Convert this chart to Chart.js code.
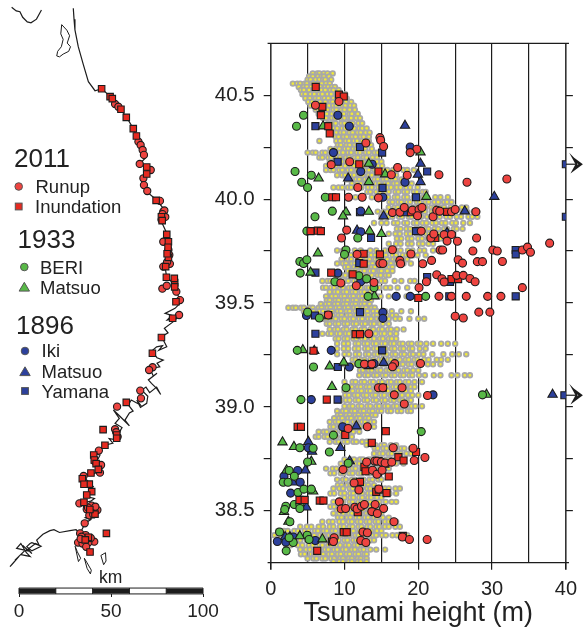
<!DOCTYPE html>
<html>
<head>
<meta charset="utf-8">
<title>Tsunami height</title>
<script src="https://cdn.jsdelivr.net/npm/chart.js@4"></script>
<style>
  html, body { margin: 0; background: #fff; }
  body { position: relative; width: 585px; height: 630px; overflow: hidden; font-family: "Liberation Sans", sans-serif; color: #222; }
  canvas { position: absolute; top: 0; }
  #mapChart { left: 0; }
  #heightChart { left: 215px; }
  .txt { position: absolute; line-height: 1; white-space: nowrap; transform: translateY(-50%); }
  svg { position: absolute; left: 0; top: 0; }
</style>
</head>
<body>
<canvas id="mapChart" width="225" height="630"></canvas>
<canvas id="heightChart" width="370" height="630"></canvas>
<svg id="keys" width="60" height="420"></svg>
<script>
'use strict';

// 2011 survey (the yellow cloud): one latitude per row, heights in m
const surveyLat = [40.605,40.59,40.575,40.556,40.54,40.525,40.505,40.485,40.468,40.45,40.43,40.41,40.39,40.365,40.34,40.32,40.3,40.28,40.26,40.242,40.224,40.2,40.18,40.16,40.14,40.115,40.095,40.075,40.056,40.035,40.009,39.986,39.96,39.94,39.915,39.885,39.857,39.833,39.81,39.785,39.753,39.73,39.71,39.69,39.672,39.654,39.633,39.606,39.574,39.553,39.532,39.513,39.495,39.477,39.46,39.44,39.424,39.4,39.373,39.352,39.328,39.304,39.28,39.253,39.227,39.205,39.176,39.152,39.12,39.096,39.077,39.056,39.032,39.003,38.98,38.96,38.945,38.928,38.904,38.88,38.856,38.832,38.816,38.8,38.775,38.747,38.727,38.703,38.68,38.65,38.623,38.607,38.583,38.563,38.543,38.519,38.503,38.487,38.467,38.447,38.423,38.403,38.382,38.358,38.334,38.313,38.291,38.27,38.255];
const surveyHeights = [
[5.7,6.3,6.6,7.2,7.7,8.4],
[5.2,5.7,6.4,6.9,7.2,7.9],
[5,5.4,6.1,6.6,7.1,7.4,8.2],
[3,3.6,4,4.6,4.9,5.5,5.8,6.5,6.9,7.5,8],
[3.8,4.5,4.9,5.5,6.2,6.7,7.4,7.8,8.3,8.7],
[4.1,4.5,5.2,5.8,6.2,6.9,7.4,8.1,8.5,9.2],
[4.3,4.7,5.4,5.9,6.6,7,7.7,8.2,8.9,9.3,10.1],
[4.7,5.3,6.1,6.5,7.3,7.8,8.5,9,9.5,10.3],
[5.1,5.6,6.3,6.7,7.4,8.1,8.4,9.2,9.7,10.2,10.9],
[5.4,6.2,6.6,7.4,7.9,8.5,8.9,9.7,10.1,10.8,11.3],
[6.1,6.5,7.3,7.7,8.5,8.9,9.6,10,10.7,11.4],
[6.5,7.2,7.6,8.3,8.8,9.5,9.9,10.7,11,11.8],
[7.1,7.5,8.3,8.7,9.5,10,10.6,10.9,11.6,12.1],
[7.8,8.4,8.8,9.6,10,10.7,11.1,11.9,12.4],
[8.6,9,9.7,10.1,10.9,11.3,12,12.4,13],
[8.2,8.9,9.5,9.9,10.7,11.1,11.8,12.2,12.9,13.4],
[8.8,9.2,9.9,10.3,11.1,11.5,12.2,12.6,13.3],
[6.6,8.9,9.4,10.2,10.6,11.3,11.7,12.4,12.8,13.3],
[9.1,9.5,10.3,10.7,11.4,11.8,12.5,13,13.6],
[8.1,8.8,9.3,10.1,10.5,11.2,11.6,12.4,12.8,13.7],
[5,5.7,6.1,7,7.4,8.2,8.6,9.4,9.8,10.5,10.9,11.7,12.1,12.9,13.3,14.1,14.5],
[6.6,7,7.8,8.2,9,9.4,10.2,10.6,11.4,11.8,12.6,13,13.8,14.4],
[8,8.7,9,9.8,10.2,11,11.4,12.1,12.5,13.3,13.7,14.4,15],
[7.5,8.3,8.8,9.6,10.1,10.9,11.3,12.2,12.6,13.4,13.8,14.6,15.1],
[7.5,8.1,8.5,9.3,9.7,10.5,10.9,11.7,12.1,12.9,13.3,14.1,14.5,15.3,15.8,16.6,17.1,18,18.5,19.4],
[9,9.7,10.1,10.9,11.3,12.1,12.5,13.3,13.7,14.5,14.9,15.7,16.1,17],
[10.3,10.8,11.6,12,12.8,13.2,14.1,14.5,15.3,15.7,16.5,16.9,17.7,18.1],
[11,11.7,12.2,13,13.5,14.3,14.7,15.5,15.9,16.7,17.1,17.9,18.3,19.1],
[8.5,9.2,9.7,10.5,10.9,11.8,12.3,13.2,13.7,14.6,15,15.9,16.3,17.1,17.6,18.4,18.9,19.9],
[13.1,13.5,14.3,14.8,15.6,16,16.9,17.3,18.1,18.5,19.4,19.8,20.6,21],
[10.5,11.5,12.4,13.7,14.3,15.4,15.9,16.8,17.2,18.1,18.5,19.4,19.9,20.7,21.2,22.3,23,24],
[16.1,16.5,17.3,17.7,18.5,18.9,19.8,20.2,21,21.4,22.2,22.7,23.5,23.9,24.5],
[16,16.8,17.2,18,18.5,19.3,19.7,20.6,21,21.8,22.2,23.1,23.5,24.4,24.9,25.9,26.5],
[14.5,15.3,15.8,16.7,17.1,18,18.4,19.2,19.7,20.5,20.9,21.8,22.2,23.1,23.6,24.5,25,26,26.6,27.5,28],
[15,16,16.5,17.4,17.8,18.7,19.1,20,20.4,21.2,21.7,22.5,22.9,23.8,24.3,25.2,25.8,26.8,27.3,28],
[14,15,15.7,16.7,17.2,18.1,18.5,19.4,19.8,20.6,21.1,21.9,22.4,23.2,23.7,24.6,25.1,26.1,27],
[17.1,17.6,18.4,18.9,19.7,20.1,21,21.4,22.2,22.7,23.5,23.9,24.8,25.2,26],
[16,16.9,17.5,18.4,18.9,19.8,20.2,21.1,21.5,22.4,22.9,23.8,24.1],
[17.1,17.7,18.6,19.1,20,20.5,21.3,21.8,22.6,23],
[16,17,17.6,18.6,19.1,20.1,20.6,21.4,22],
[9,9.8,10.3,11.4,12.2,13.5,14.3,15.5,16,17,17.6,18.6,19.2,20.2,20.8,22],
[10.1,10.9,12,12.6,13.6,14.2,15.1,15.6,16.5,17,17.9,18.4,19.3,19.9,21],
[9.6,10.5,10.9,11.8,12.2,13,13.4,14.2,14.6,15.4,15.8,16.6,17,17.9,18.5],
[9,9.8,10.2,11,11.4,12.2,12.6,13.4,13.8,14.6,15,15.8,16.3,17.1,18,19],
[10.1,10.5,11.3,11.7,12.5,12.9,13.7,14.1,14.9,15.3,16.1,16.5],
[10.5,11.1,11.5,12.3,12.7,13.5,13.9,14.7,15,15.8,16.5],
[9,9.7,10.1,10.9,11.3,12.1,12.5,13.3,13.7,14.5,14.9,15.6,16],
[7,7.7,8.1,8.9,9.3,10.1,10.5,11.3,11.7,12.5,12.9,13.7,14.1,15,15.5,16.8,17.7,18.9,19.5],
[7.1,7.5,8.2,8.6,9.4,9.8,10.6,11,11.8,12.2,13,13.3,14.2,14.7,15.6,16.2,17.2,18.5],
[8,8.7,9.1,9.9,10.3,11.1,11.5,12.3,12.7,13.5,14],
[7.5,8.3,8.8,9.6,10,10.8,11.2,12,12.4,13.2,13.6,14.4,14.9,16,17.2,18.4,19.2,20],
[7.6,8,8.8,9.2,10,10.4,11.2,11.6,12.4,12.8,13.6],
[6.8,7.5,7.9,8.7,9.1,9.9,10.3,11.1,11.5,12.3,12.7,13.4],
[2.4,3,3.4,4.1,4.5,5.3,5.7,6.5,6.9,7.7,8.1,8.9,9.3,10.1,10.5,11.3,11.7,12.5,12.9,13.7,14.1],
[4.5,5.3,5.8,6.6,7.1,7.9,8.3,9.1,9.5,10.3,10.7,11.5,11.9,12.7,13.1,13.9,14.4,15.5,16.4,17.7,19],
[6,6.7,7.2,8,8.4,9.2,9.6,10.4,10.8,11.6,12,12.8,13.2,14,14.4,15.2,15.7,16.5,17],
[6.5,7.2,7.6,8.4,8.8,9.6,10,10.8,11.2,12,12.4,13.2,13.6,14.4,14.8,15.6,16,16.9,17.5,18.8,20,20.8],
[7.6,8,8.8,9.2,10,10.4,11.2,11.6,12.4,12.8,13.6,14,14.8,15.2,16],
[8,8.7,9.1,9.9,10.3,11.1,11.5,12.3,12.7,13.5,13.9,14.7,15.1,15.9,16.3,17.1,18],
[7,7.8,8.2,9,9.4,10.2,10.6,11.4,11.8,12.6,13,13.8,14.2,15,15.4,16.2,17],
[8.8,9.2,10,10.4,11.2,11.6,12.4,12.8,13.6,14,14.8,15.2,16,16.4,17],
[9,9.9,10.5,11.5,11.9,12.7,13.1,13.9,14.3,15.1,15.5,16.3,16.7,17.5,17.9,18.7,19.1,19.9,20.3,21.1,22,23.1,24,25],
[9,9.9,10.5,11.4,11.9,12.8,13.2,14,14.4,15.2,15.6,16.4,16.8,17.6,18,18.8,19.2,20.2,21],
[9,10,10.6,11.5,12,12.9,13.3,14.1,14.5,15.3,15.7,16.5,16.9,17.7,18.1,18.9,19.3,20.1,20.7,21.9,23.4,24.6,25.5,26.5],
[11.1,11.5,12.3,12.7,13.5,13.9,14.7,15.1,15.9,16.3,17.1,17.5,18.3,18.7,19.5,19.9,20.8,21.4,22.5,23.1,24],
[10,11.1,11.8,12.7,13.1,13.9,14.3,15.1,15.5,16.3,16.7,17.5,17.9,18.7,19.1,19.9,20.3,21.3,22,23],
[12.1,12.5,13.3,13.7,14.5,14.9,15.7,16.1,16.9,17.3,18.1,18.5,19.3,20],
[12,12.8,13.2,14,14.4,15.2,15.6,16.4,16.8,17.6,18,18.8,19.2,20.1,20.9,22.1,23,24.5,25.3,26.3,27],
[10,11.1,11.5,12.3,12.7,13.5,13.9,14.7,15.1,15.9,16.3,17.1,17.5,18.3,18.7,19.5,20.5],
[10.6,11,11.8,12.2,13,13.4,14.2,14.6,15.4,15.8,16.6,17,17.8,18.2,19,19.5],
[10,10.7,11.1,11.9,12.3,13.1,13.5,14.3,14.7,15.5,15.9,16.7,17.1,17.9,18.3,19],
[10.1,10.6,11.4,11.8,12.6,13,13.8,14.2,15,15.4,16.2,16.6,17.4,17.8,18.6,19.2,20],
[9.5,10.2,10.7,11.5,11.9,12.7,13.1,13.9,14.3,15.1,15.5,16.3,16.7,17.5,17.9,18.7,19],
[10,10.7,11.1,11.9,12.3,13.1,13.5,14.3,14.7,15.5,15.9,16.7,17.1,17.9,18.3,19.1,19.6,20.5],
[9,9.8,10.2,11,11.4,12.2,12.6,13.4,13.8,14.6,15,15.9,16.3,17.2,17.7,18.6,19],
[9.1,9.5,10.3,10.7,11.5,11.9,12.7,13.1,13.8,14.2],
[8.6,9.3,9.7,10.5,10.9,11.7,12.1,12.9,13.3],
[8,8.8,9.2,10,10.4,11.2,11.6,12.4,12.8,13.6,14],
[8.1,8.5,9.3,9.7,10.5,10.9,11.7,12.1,12.9,13.3,14],
[6.5,7.2,7.6,8.4,8.8,9.6,10,10.8,11.2,12],
[6.1,6.5,7.3,7.7,8.5,8.9,9.7,10.1,11],
[8,8.8,9.2,10,10.4,11.2,11.6,12.4,13],
[13,13.8,14.2,15,15.4,16.3,17],
[14.1,14.5,15.3,15.7,16.5,16.9,17.7,18.1,19],
[14,14.8,15.2,16,16.4,17.2,17.6,18.4,19],
[10,10.8,11.3,12.1,12.5,13.3,13.7,14.5,14.9,15.7,16.1,17],
[9.5,10.3,10.8,11.6,12,12.8,13.2,14,14.4,15.2,15.6,16.4,17,18],
[7.5,8.4,8.9,9.8,10.3,11.1,11.5,12.3,12.7,13.5,13.9,14.7,15.1,16],
[8.1,8.6,9.5,9.9,10.7,11.1,11.9,12.3,13.1,13.4,14],
[9,9.8,10.2,11,11.4,12.2,12.6,13.4,13.8,14.6,15],
[9.1,9.6,10.4,10.8,11.6,12,12.8,13.2,14],
[8.5,9.3,9.8,10.7,11.1,11.9,12.3,13.1,13.5,14.3,14.7,15.5,16,16.9,17.5],
[8.1,8.6,9.5,10,10.8,11.2,12,12.4,13.2,13.6,14.4,14.8,15.6,16.1,17],
[10,10.8,11.2,12,12.4,13.2,13.6,14.4,15],
[8.5,9.3,9.8,10.7,11.1,11.9,12.3,13.1,13.5,14.3,14.7,15.6,16.4,17],
[8.1,8.6,9.5,9.9,10.7,11.1,11.9,12.3,13.1,13.5,14.5],
[9,9.7,10.1,10.9,11.3,12.1,12.5,13.3,13.7,14.5,15],
[8.5,9.3,9.8,10.6,11,11.8,12.2,13,13.4,14.2,15],
[9.1,9.6,10.4,10.8,11.6,12,12.8,13.2,14,14.4,15.2,16],
[7,7.9,8.4,9.3,9.8,10.6,11,11.8,12.2,13,13.4,14.2,14.6,15.5,16,17],
[4,4.9,5.5,6.5,7.1,8,8.5,9.4,9.9,10.7,11.1,11.9,12.3,13.1,13.5,14.3,14.7,15.5,16,16.9,17.5],
[1,1.8,2.3,3.2,3.7,4.6,5.1,6,6.4,7.2,7.6,8.4,8.8,9.6,10,10.8,11.2,12,12.4,13.2,13.6,14.4,15],
[0.5,1.3,1.8,2.7,3.2,4.1,4.6,5.5,5.9,6.7,7.1,7.9,8.3,9.1,9.5,10.3,10.7,11.5,11.9,12.7,13.1,13.9,14.3,15.1,15.6,16.5,17.1,18,18.5],
[1,1.9,2.5,3.5,4,4.9,5.4,6.3,6.8,7.6,8,8.8,9.2,10,10.4,11.2,11.6,12.4,12.8,13.6,14],
[2.1,2.7,3.7,4.3,5.2,5.7,6.6,7,7.8,8.2,9,9.4,10.2,10.6,11.4,11.8,12.6,13],
[4,4.8,5.3,6.2,6.6,7.4,7.8,8.6,9,9.8,10.2,11,11.4,12.2,12.6,13.5,14.3,15.5],
[4.1,4.6,5.5,5.9,6.7,7.1,7.9,8.3,9.1,9.5,10.3,10.7,11.5,11.9,12.7,13],
[5,5.8,6.2,7,7.4,8.2,8.6,9.4,9.8,10.6,11,11.8,12.2,13],
[8.5,9.3,9.8,10.6,11,11.8,12.2,13]
];

// 2011 field points
const runupHeight = [6.06,9.25,12.9,14.8,14.9,15.3,19.8,18.9,8.2,10.7,17.2,16.35,18.5,22.8,26.6,32,11.8,10.55,12.4,14.6,16.5,17.5,18.1,19.2,20.1,20.5,19.9,22,22.5,22.9,24.5,25,27.8,10.3,9.6,20.4,21.7,22.1,23.5,24.5,23.9,25.3,27.9,22.96,23.3,16.5,19,11.7,27.4,30.1,30.7,34.1,34.8,35.2,37.8,25.4,26,28,28.7,31.4,17.5,17.6,20.6,21.8,14.8,15.2,22.5,23.2,23.5,25.2,26.1,27,27.7,21.1,14,9.5,11.6,20.1,34.1,22.8,24.5,26.5,29.4,31.2,28.2,29.7,25,26.1,7.8,13.3,12.7,13.7,16.8,16.5,20.3,14.6,15.2,17.8,21.25,16.75,18.1,13.1,10.5,16.6,19.3,19.45,20.9,13,14.1,14.4,15,15.5,16.4,9.8,13.8,14.4,15.1,11.3,11.95,14.65,9.3,9.55,10.15,11.4,11.7,12.3,12.7,14.15,15.3,13.7,14.45,16.7,12.5,13.1,17.85,18.8,21.2,8.6,8.5,12.2,12.9];
const runupLat = [40.452,40.47,40.27,40.296,40.283,40.253,40.24,40.224,40.166,40.18,40.152,40.117,40.115,40.117,40.081,40.097,40.056,40.009,40.009,40.006,39.935,39.937,39.96,39.947,39.95,39.96,39.92,39.915,39.947,39.942,39.939,39.95,39.939,39.851,39.813,39.846,39.813,39.832,39.829,39.83,39.798,39.797,39.813,39.755,39.755,39.756,39.736,39.734,39.75,39.755,39.75,39.755,39.769,39.744,39.788,39.708,39.692,39.699,39.699,39.7,39.705,39.689,39.689,39.705,39.69,39.69,39.636,39.617,39.601,39.633,39.633,39.618,39.602,39.602,39.599,39.596,39.583,39.574,39.574,39.532,39.532,39.532,39.532,39.532,39.456,39.456,39.436,39.428,39.442,39.352,39.206,39.206,39.208,39.193,39.209,39.092,39.092,39.092,39.055,39.058,39.014,38.904,38.896,38.803,38.801,38.742,38.756,38.735,38.739,38.739,38.735,38.73,38.734,38.698,38.695,38.676,38.695,38.634,38.6,38.605,38.543,38.509,38.511,38.517,38.509,38.522,38.53,38.53,38.511,38.496,38.487,38.447,38.398,38.394,38.374,38.362,38.362,38.37,38.352,38.357,38.347];
const inundationHeight = [6.1,9.25,9.9,7,6.8,7.8,8,12,14.6,8.35,8.85,19,23.9,5.4,6.4,6.8,22.3,12.6,14.8,12.6,8.2,11.1,24.5,25.4,20,7.8,11.5,12.1,5.8,15.2,7.6,3.65,4.1,15.6,10.1,13.7,19.7,17.3,18,14.6,15.55,12.7,12.85,16,12.1,14.3,14.65,15.7,3.9,4.6,6.65,7.15,11.8,9.9,10.3,17.9,6.3,8.3];
const inundationLat = [40.54,40.503,40.494,40.444,40.404,40.351,40.316,40.168,40.133,40.009,40.009,39.937,39.939,39.846,39.848,39.846,39.813,39.737,39.734,39.689,39.646,39.638,39.615,39.615,39.524,39.442,39.35,39.35,39.27,39.092,39.035,38.904,38.904,38.883,38.865,38.827,38.783,38.758,38.742,38.739,38.727,38.711,38.69,38.665,38.639,38.591,38.602,38.585,38.552,38.552,38.549,38.549,38.493,38.397,38.397,38.379,38.307,38.352];

// 1933
const beriHeight = [4.45,3.5,3.3,5.5,4.2,5,7.4,6,8.35,4.9,11.8,10.2,10,3.95,4.45,4.9,4,11.95,13,8.7,14,13.2,21,5,6.6,3.6,5.8,11.95,10.2,4.1,28.7,8.5,20.4,3.95,7.95,5.75,5,10.5,2.5,3.2,1.7,2.35,3.7,4.5,5.5,3.2,3.95,2.05,1.9,3.95,2.6,1.2,3.05,2.1,4.95,5.2,2.5];
const beriLat = [40.404,40.351,40.133,40.115,40.081,40.056,40.009,39.915,39.942,39.846,39.813,39.755,39.734,39.7,39.69,39.708,39.644,39.631,39.617,39.602,39.574,39.532,39.532,39.456,39.428,39.272,39.192,39.208,39.092,39.035,39.058,38.864,38.881,38.803,38.783,38.801,38.735,38.729,38.694,38.666,38.637,38.637,38.588,38.604,38.604,38.53,38.53,38.522,38.506,38.511,38.447,38.398,38.347,38.307,38.382,38.362,38.37];
const matsuo33Height = [7.1,13.3,20.3,6.5,15.5,13.3,21.1,10.2,9.8,13.3,6.4,5.4,15,13.4,14.05,4.35,8,9.9,8.3,29.25,1.6,3.15,5.5,2.15,5.75,7,3.95,1.8,2.4];
const matsuo33Lat = [40.351,40.171,40.226,40.1,40.12,40.083,40.012,39.937,39.918,39.94,39.74,39.647,39.833,39.846,39.533,39.274,39.195,39.214,39.097,39.059,38.83,38.808,38.737,38.695,38.594,38.363,38.378,38.495,38.448];

// 1896
const ikiHeight = [9.1,10.65,8.5,13.75,18.9,12.2,18.2,15.2,12.2,12.2,9.1,12.2,17,18.9,4.85,15.2,15.2,8.2,10.65,14,5.5,22,9.75,5.1,3.65,1.8,4,2.7,6.05,0.9,2.05,3.05];
const ikiLat = [40.404,40.351,40.224,40.168,40.251,40.133,40.081,40.009,39.942,39.843,39.644,39.602,39.532,39.532,39.44,39.455,39.426,39.272,39.192,39.208,39.035,39.058,38.904,38.803,38.694,38.666,38.637,38.585,38.357,38.352,38.349,38.374];
const matsuo96Height = [18.2,20.3,10.5,19.95,20.3,30.3,15.3,26.3,11.7,23.9,5.9,13.3,15.3,11.6,38.2,5.1,9.45,5.6,10.7,4.7,4.85,1.95,2.6,3];
const matsuo96Lat = [40.354,40.171,40.1,40.118,40.083,40.012,39.918,39.942,39.849,39.838,39.27,39.197,39.213,38.907,39.059,38.832,38.803,38.785,38.739,38.695,38.517,38.374,38.374,38.637];
const yamanaHeight = [6.06,12.1,15.1,9.07,21.2,15.15,19.7,40,40,12.1,18.2,19.7,13.6,33.2,33.2,12,6.06,21.2,24.3,33.2,24.2,6,12.1,6.06,15.1,9.1,9.07,39.8];
const yamanaLat = [40.351,40.251,40.224,40.18,40.133,40.054,40.009,40.168,39.915,39.937,39.937,39.846,39.813,39.755,39.734,39.692,39.646,39.625,39.602,39.532,39.532,39.44,39.456,39.352,39.272,39.192,39.035,39.056];

// off-scale values, arrows at the right edge
const offScaleLat = [40.168, 39.056];
const arrowShaft = [40, 41.5];
const arrowHeadX = [41, 42.1, 41, 41.45, 41, 41.3, 41.9, 41.3, 41.6, 41.9, 41.6];
const arrowHeadLat = [0.029, 0, -0.029, 0, 0.029, 0.018, 0, -0.018, -0.008, 0, 0.008];

const heightTicks = [0, 5, 10, 15, 20, 25, 30, 35, 40];
const latMin = 38.25, latMax = 40.75;
const frameHeights = [-0.42, 40.42];

// map, in km east and km north of the scale origin
const coastX = [29.5,29.9,30.4,32.2,35,37.7,41.3,45,49.5,54.9,58.5,62.1,64,66.7,68.5,69.4,65.8,70.3,72.1,69.4,66.7,69.4,74.8,78.4,76.6,80.3,82.1,79.4,80.3,84.8,85.7,88.4,84.8,79.4,83,80.5,85.7,83.9,79,81,77.5,80.3,76,78,74.8,72.1,75,78.4,75,76.5,71.2,73,75,70.3,72,74.8,77,74.8,71,69,66.7,70,69.4,66,64,66,61,59.4,62,60,57.6,60,54,51.3,54.5,52.2,56,53.5,55,53.1,49,51,46.7,41.3,44,43,39.5,44,41,38,35,40.4,38,36.8,41,39,33.7,37.3,43.1,36,39,35.9,33.2,31,27.7,22,19,16.8,13,9.6,11,7,6,4.2,7,12,9,5,7,2,5,-1.3,1,4,6,1,3,-2.2,0,-3.5,-4.9];
const coastY = [337.9,332,326.1,317,307.1,298,293.1,294.2,289.9,283.5,278.6,272.6,268.1,263.6,260,257.2,253.6,251.8,249.1,247.3,243.7,238.2,233.7,229.2,223.7,215.6,206.5,197.5,191.1,188.4,183,178.4,174.8,172.1,171,168.5,169.4,167.6,164,161.5,159.4,153.9,152,154.5,153.9,151.6,148,146.7,145,143,142,138,139.5,135.9,134,131.3,128,132,129,132,130.4,127,123.2,121,125,122.3,125,122.3,119,118,114.1,111,117,119.6,115,112.3,110,106,108,103.3,104,101.5,100.5,96,95,93,90.6,87,85,85,83.3,77.9,76,72.5,71.5,70,68.8,64.3,64.3,61,60,58,52.5,54.5,54,53,54.5,54,52,48.9,46,47.5,47,45.3,43,45.5,47,44,41.5,46,43,44.4,47,42,40,41,43,38,40,36,34.4];
const shoreNorthX = [-4,-1.5,0.5,2,4.5,6.5,9.5,12.2];
const shoreNorthY = [338.5,336.5,336,333,330.5,330,332,337];
const islandX = [23.2,22.7,24,23,21,20.5,22,24,27,28,26.2,27.5,26,23.2];
const islandY = [329,324,321,317,314.5,312,311.5,313,314.5,317,319,323,326,329];
const isletAX = [30.5,31.7,33.5,32.3,30.5];
const isletAY = [45.5,42.5,39,37.2,45.5];
const isletBX = [35.5,37,39.3,38.8,37,35.5];
const isletBY = [39,36.5,32.5,30.5,33.5,39];
const isletCX = [44.5,47,47.3,46,44.5];
const isletCY = [40.5,42,37.5,35.5,40.5];

const mapRunupX = [52.2,54,64.9,66.1,67.2,67.9,65.6,71.6,67.6,67.9,69.7,76.6,78.4,77.5,78.4,81.2,81.7,78.4,77.9,80.3,85.5,87.5,87,72.6,70.7,65.9,66.3,53.3,52.2,43.4,44.6,44,35.1,32.8,39.5,36.8,42.6,38.6,38.2,35.7,33.2,36.2,32.1,35,40.9,34,37.7,79,78,79.5,82,80.5,52.8,53.6,41.5,37.5,40.3,34.5,36.5,39,33.5];
const mapRunupY = [285.9,284.4,265.4,263.6,260.9,258.2,253.3,250,245.5,241.8,238.6,233.2,227.4,222.8,211,206.5,203.8,197.5,185.5,187.1,183.9,179.3,171.2,142.8,141.3,130.1,125.9,121.4,109.1,97.5,89.7,85.5,83.7,68.8,67.6,65.6,65.2,64.9,62.3,58,52.5,51.6,47.5,48,48,50.7,47.5,228,226,224.5,199,200,107.5,105,67,66.5,62.8,47,45.2,50,49.5];
const mapInundationX = [44.9,49.5,50.7,55.4,58.3,62.1,63.8,69.4,69.4,74.5,77.4,80.3,81.2,81.2,79.7,80.1,84.6,84.4,85.3,83.5,77.4,72.5,58.3,45.7,53.1,53.1,46.7,40.6,40.9,41.9,43.1,39.1,34.4,38.2,35.3,39.5,36.8,35.3,41.3,37.7,47.5,38.6,77.8,81,80.5,84.6,38.5,36];
const mapInundationY = [294.2,289.9,288.8,283,278.6,272.5,268.5,251.6,247.8,233.5,224.6,215,211,202.5,197.5,191.7,188.8,191.1,178.4,169.4,159,150.4,123.7,108.9,106,104.2,100.4,95.1,92.4,90.4,87.3,85.3,82.2,79.3,79.2,75.2,73.4,69.4,63,50.4,52.5,42.4,222.5,208,204.5,186.5,65.5,49];

// scale bar
const barKm = [0, 20, 40, 60, 80, 100];
const barTicks = [0, 50, 100];
const barEdgeNorth = [19.6, 22.8];
const barMidNorth = 21.2;

// legend
const legendHeads = ['2011', '1933', '1896'];
const runupLabels = ['Runup', 'Inundation'];
const labels1933 = ['BERI', 'Matsuo'];
const labels1896 = ['Iki', 'Matsuo', 'Yamana'];

const RED = '#ee4440', RED_SQ = '#e62a20', GREEN = '#58b947', BLUE = '#2c409c', INK = '#1c1c1c';
const FONT = '"Liberation Sans", sans-serif';

function pairs(xs, ys) {
  return xs.map((x, i) => ({ x, y: ys[i] }));
}

function markers(label, xs, ys, style, color, r, order) {
  return {
    label, data: pairs(xs, ys), pointStyle: style, pointRadius: r,
    backgroundColor: color, borderColor: INK, borderWidth: 1.1, order
  };
}

function path(xs, ys, width, color) {
  return {
    data: pairs(xs, ys), showLine: true, pointRadius: 0,
    borderColor: color || INK, borderWidth: width, order: 5, clip: false
  };
}

// --- height vs latitude panel ---
const surveyPoints = [];
surveyLat.forEach((lat, i) => {
  surveyHeights[i].forEach(h => surveyPoints.push({ x: h, y: lat }));
});

const heightSets = [
  markers('Runup', runupHeight, runupLat, 'circle', RED, 4, 1),
  markers('Inundation', inundationHeight, inundationLat, 'rect', RED_SQ, 5, 2),
  markers('BERI', beriHeight, beriLat, 'circle', GREEN, 4, 3),
  markers('Matsuo 1933', matsuo33Height, matsuo33Lat, 'triangle', GREEN, 5.4, 3),
  markers('Iki', ikiHeight, ikiLat, 'circle', BLUE, 4, 4),
  markers('Matsuo 1896', matsuo96Height, matsuo96Lat, 'triangle', BLUE, 5.4, 4),
  markers('Yamana', yamanaHeight, yamanaLat, 'rect', BLUE, 5, 4),
  {
    label: 'Survey', data: surveyPoints, pointStyle: 'circle', pointRadius: 2.3,
    backgroundColor: '#f0e83a', borderColor: '#a8a8a8', borderWidth: 1.8, order: 6
  },
  path(frameHeights, [latMax, latMax], 1.3),
  path(frameHeights, [latMin, latMin], 1.3)
];
offScaleLat.forEach(lat => {
  heightSets.push(path(arrowShaft, [lat, lat], 1.2));
  heightSets.push(path(arrowHeadX, arrowHeadLat.map(d => lat + d), 1.8));
});

new Chart(document.getElementById('heightChart'), {
  type: 'scatter',
  data: { datasets: heightSets },
  options: {
    responsive: false,
    animation: false,
    layout: { autoPadding: false, padding: { top: 43.3, left: 0, right: 0, bottom: 0 } },
    plugins: { legend: { display: false }, tooltip: { enabled: false } },
    scales: {
      x: {
        min: 0, max: 40,
        afterBuildTicks: s => { s.ticks = heightTicks.map(value => ({ value })); },
        afterFit: s => { s.height = 67.3; },
        border: { display: false },
        grid: {
          color: ctx => (ctx.tick && (ctx.tick.value === 0 || ctx.tick.value === 40) ? '#333' : INK),
          lineWidth: ctx => (ctx.tick && (ctx.tick.value === 0 || ctx.tick.value === 40) ? 1.6 : 1.2),
          tickColor: ctx => (ctx.tick && ctx.tick.value % 10 === 0 ? INK : 'transparent'),
          tickLength: 7
        },
        ticks: {
          color: '#222', maxRotation: 0, padding: 8, autoSkip: false,
          font: { family: FONT, size: 20 },
          callback: v => (v % 10 === 0 ? String(v) : '')
        },
        title: {
          display: true, text: 'Tsunami height (m)', color: '#222',
          font: { family: FONT, size: 27 }, padding: { top: 0, bottom: 0 }
        }
      },
      y: {
        min: latMin, max: latMax,
        afterFit: s => { s.width = 55.7; },
        border: { display: false },
        grid: {
          drawOnChartArea: false, tickLength: 7, lineWidth: 1.2,
          tickColor: ctx => (ctx.tick && (ctx.tick.value === latMin || ctx.tick.value === latMax) ? 'transparent' : INK)
        },
        ticks: {
          stepSize: 0.25, color: '#222', padding: 9,
          font: { family: FONT, size: 20.5 },
          callback: v => (Math.round(v * 100) % 50 === 0 ? v.toFixed(1) : '')
        }
      },
      y2: {
        position: 'right', min: latMin, max: latMax,
        afterFit: s => { s.width = 15.5; },
        border: { display: false },
        grid: {
          drawOnChartArea: false, tickLength: 7, lineWidth: 1.2,
          tickColor: ctx => (ctx.tick && (ctx.tick.value === latMin || ctx.tick.value === latMax) ? 'transparent' : INK)
        },
        ticks: { stepSize: 0.25, padding: 0, callback: () => '' }
      }
    }
  }
});

// --- map panel ---
const mapSets = [
  markers('Runup', mapRunupX, mapRunupY, 'circle', RED, 3.6, 2),
  markers('Inundation', mapInundationX, mapInundationY, 'rect', RED_SQ, 4.6, 1),
  path(coastX, coastY, 1.2),
  path(shoreNorthX, shoreNorthY, 1.2),
  path(islandX, islandY, 1),
  path(isletAX, isletAY, 1),
  path(isletBX, isletBY, 1),
  path(isletCX, isletCY, 1),
  path([barKm[0], barKm[5]], [barEdgeNorth[0], barEdgeNorth[0]], 1),
  path([barKm[0], barKm[5]], [barEdgeNorth[1], barEdgeNorth[1]], 1)
];
for (let i = 0; i < barKm.length - 1; i += 2) {
  mapSets.push(path([barKm[i], barKm[i + 1]], [barMidNorth, barMidNorth], 5));
}
barKm.forEach(km => {
  mapSets.push(path([km, km], barEdgeNorth, 1));
});

new Chart(document.getElementById('mapChart'), {
  type: 'scatter',
  data: { datasets: mapSets },
  options: {
    responsive: false,
    animation: false,
    plugins: { legend: { display: false }, tooltip: { enabled: false } },
    layout: { autoPadding: false, padding: 0 },
    scales: {
      x: {
        min: -10.33, max: 111.95,
        position: { y: barEdgeNorth[0] },
        afterBuildTicks: s => { s.ticks = barTicks.map(value => ({ value })); },
        border: { display: false },
        grid: { drawOnChartArea: false, tickLength: 3, color: INK },
        ticks: { color: '#222', padding: 3, maxRotation: 0, font: { family: FONT, size: 19 } }
      },
      y: { display: false, min: 0, max: 342.4 }
    }
  }
});

// --- legend and scale caption, as text beside the map ---
function addText(text, x, y, size) {
  const el = document.createElement('div');
  el.className = 'txt';
  el.textContent = text;
  el.style.left = x + 'px';
  el.style.top = y + 'px';
  el.style.fontSize = size + 'px';
  document.body.appendChild(el);
}

const keys = document.getElementById('keys');
function addKey(shape, cx, cy, fill) {
  const ns = 'http://www.w3.org/2000/svg';
  let el;
  if (shape === 'circle') {
    el = document.createElementNS(ns, 'circle');
    el.setAttribute('cx', cx); el.setAttribute('cy', cy); el.setAttribute('r', 3.8);
  } else if (shape === 'rect') {
    el = document.createElementNS(ns, 'rect');
    el.setAttribute('x', cx - 3.4); el.setAttribute('y', cy - 3.4);
    el.setAttribute('width', 6.8); el.setAttribute('height', 6.8);
  } else {
    el = document.createElementNS(ns, 'polygon');
    el.setAttribute('points', `${cx},${cy - 5.2} ${cx + 5.2},${cy + 3.6} ${cx - 5.2},${cy + 3.6}`);
  }
  el.setAttribute('fill', fill);
  el.setAttribute('stroke', '#555');
  el.setAttribute('stroke-width', 1);
  keys.appendChild(el);
}

addText(legendHeads[0], 14, 157.5, 26);
addKey('circle', 18.7, 186.5, RED);
addText(runupLabels[0], 35.5, 187, 18.5);
addKey('rect', 18.7, 206.5, RED_SQ);
addText(runupLabels[1], 35, 207, 18.5);

addText(legendHeads[1], 17.5, 239, 26);
addKey('circle', 24.3, 267, GREEN);
addText(labels1933[0], 40, 267.5, 18.5);
addKey('triangle', 24.3, 287.5, GREEN);
addText(labels1933[1], 40, 287.5, 18.5);

addText(legendHeads[2], 16, 324.5, 26);
addKey('circle', 25, 351, BLUE);
addText(labels1896[0], 41.5, 351, 18.5);
addKey('triangle', 25, 372, BLUE);
addText(labels1896[1], 41.5, 371.5, 18.5);
addKey('rect', 25, 391, BLUE);
addText(labels1896[2], 41.5, 391.5, 18.5);

addText('km', 99, 577.5, 17.5);
</script>
</body>
</html>
